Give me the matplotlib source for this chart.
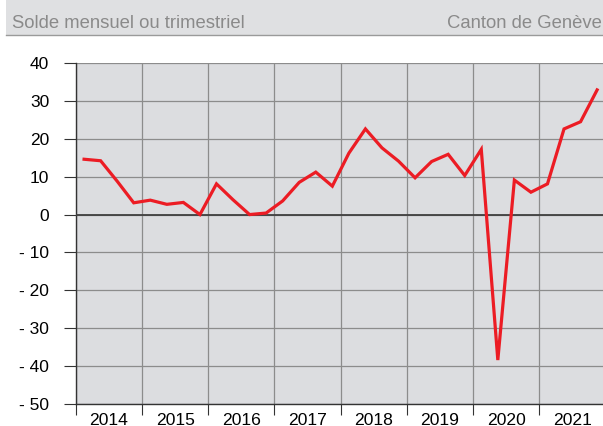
import matplotlib.pyplot as plt
import matplotlib.patches as mpatches
from matplotlib.ticker import FixedLocator, NullFormatter

plt.rcParams['font.family'] = ['Liberation Sans', 'DejaVu Sans']

# quarterly balance, 2014 Q1 .. 2021 Q4
years = [2014, 2015, 2016, 2017, 2018, 2019, 2020, 2021]
solde = [
    [14.6, 14.2, 8.8, 3.1],
    [3.8, 2.7, 3.2, 0.0],
    [8.1, 3.9, 0.0, 0.4],
    [3.6, 8.5, 11.2, 7.5],
    [16.2, 22.6, 17.6, 14.1],
    [9.7, 14.0, 15.9, 10.3],
    [17.2, -38.4, 9.1, 5.9],
    [8.1, 22.6, 24.5, 32.9],
]
y_ticks = [40, 30, 20, 10, 0, -10, -20, -30, -40, -50]
title_left = 'Solde mensuel ou trimestriel'
title_right = 'Canton de Genève'

x = []
y = []
for yr, vals in zip(years, solde):
    for q, v in enumerate(vals):
        x.append(yr + (q + 0.5) / 4)
        y.append(v)

fig = plt.figure(figsize=(6.03, 4.26), dpi=100)

# header band
fig.patches.append(mpatches.Rectangle((6 / 603, 1 - 35 / 426), 1, 35 / 426,
                                      transform=fig.transFigure, facecolor='#dfe0e2',
                                      edgecolor='none', zorder=0))
fig.lines.append(plt.Line2D([6 / 603, 1], [1 - 35 / 426, 1 - 35 / 426],
                            transform=fig.transFigure, color='#9a9a9a', lw=1))
fig.text(12.5 / 603, 1 - 28.5 / 426, title_left, color='#8a8a8a', fontsize=13.3,
         va='baseline', ha='left')
fig.text(602 / 603, 1 - 28.5 / 426, title_right, color='#8a8a8a', fontsize=13.3,
         va='baseline', ha='right')

ax = fig.add_axes([75.8 / 603, 22 / 426, 1 - 75.8 / 603, 341 / 426])
ax.set_facecolor('#dcdde0')
ax.plot(x, y, color='#ec1c24', lw=2.3, solid_joinstyle='miter', zorder=5)

ax.set_xlim(2014, 2014 + (603 - 75.8) / 66.2)
ax.set_ylim(-50, 40)

ax.set_yticks(y_ticks)
ax.set_yticklabels([str(t) if t >= 0 else '- ' + str(-t) for t in y_ticks])
ax.tick_params(axis='y', direction='out', length=8.6, width=0.8, color='#333333',
               pad=10.5, labelsize=12.5)

ax.xaxis.set_major_locator(FixedLocator(years))
ax.xaxis.set_major_formatter(NullFormatter())
ax.xaxis.set_minor_locator(FixedLocator([yr + 0.5 for yr in years]))
ax.set_xticklabels([str(yr) for yr in years], minor=True)
ax.tick_params(axis='x', which='major', direction='out', length=8, width=0.8, color='#333333')
ax.tick_params(axis='x', which='minor', length=0, pad=6.5, labelsize=12.6)

ax.grid(True, which='major', color='#8c8c8c', lw=0.9)
ax.set_axisbelow(True)
ax.axhline(0, color='#404040', lw=1.3, zorder=3)

for s in ['top', 'right']:
    ax.spines[s].set_visible(False)
ax.spines['left'].set_color('#333333')
ax.spines['bottom'].set_color('#333333')
ax.spines['left'].set_linewidth(1.0)
ax.spines['bottom'].set_linewidth(1.0)

fig.savefig('out.png', dpi=100)
